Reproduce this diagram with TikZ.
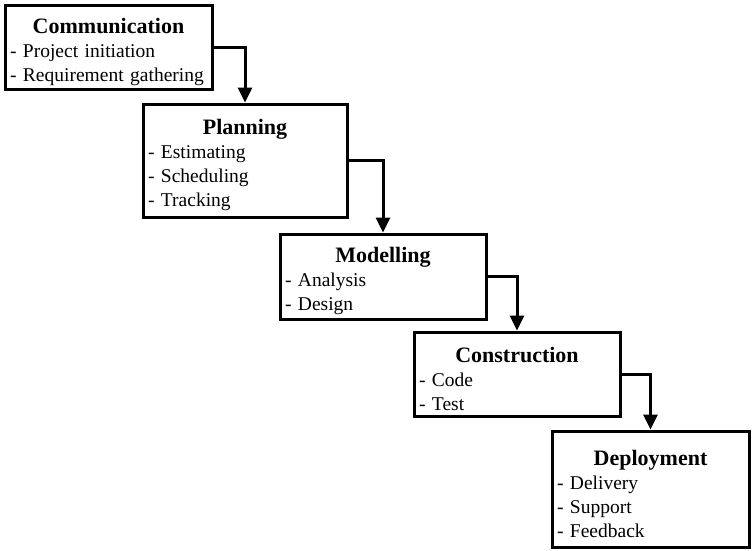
\documentclass[tikz,border=0pt]{standalone}
\usepackage{fontspec}
\setmainfont{Liberation Serif}
\usepackage{tikz}
\usetikzlibrary{arrows.meta}

\hyphenpenalty=10000
\newcommand{\phasetitle}[1]{\rule{0pt}{25pt}\makebox[\linewidth][c]{\fontsize{22}{24}\selectfont\bfseries #1}}

\begin{document}
\begin{tikzpicture}[
    x=1pt, y=-1pt,
    phase/.style={rectangle, draw=black, line width=3pt, fill=white,
                  inner xsep=5pt, inner ysep=3pt, align=left,
                  font=\fontsize{19.5}{24}\selectfont},
    flow/.style={-{Triangle[length=15pt, width=14pt]}, line width=3pt},
]
\useasboundingbox (0,0) rectangle (752,550);

\node[phase, minimum width=207pt, minimum height=84pt, text width=197pt]  (comm)   at (108.5,47)
     {\phasetitle{Communication}\\- Project initiation\\- Requirement gathering};
\node[phase, minimum width=204pt, minimum height=113pt, text width=194pt] (plan)   at (245,160.5)
     {\phasetitle{Planning}\\- Estimating\\- Scheduling\\- Tracking};
\node[phase, minimum width=206pt, minimum height=85pt, text width=196pt]  (model)  at (383,276.5)
     {\phasetitle{Modelling}\\- Analysis\\- Design};
\node[phase, minimum width=206pt, minimum height=84pt, text width=196pt]  (constr) at (517,374)
     {\phasetitle{Construction}\\- Code\\- Test};
\node[phase, minimum width=197pt, minimum height=116pt, text width=187pt] (deploy) at (650.5,489)
     {\phasetitle{Deployment}\\- Delivery\\- Support\\- Feedback};

% comm -> plan
\draw[flow] (comm.east) -| (plan.north);
% plan -> model
\draw[flow] (plan.east) -| (model.north);
% model -> constr
\draw[flow] (model.east) -| (constr.north);
% constr -> deploy
\draw[flow] (constr.east) -| (deploy.north);

\end{tikzpicture}
\end{document}
